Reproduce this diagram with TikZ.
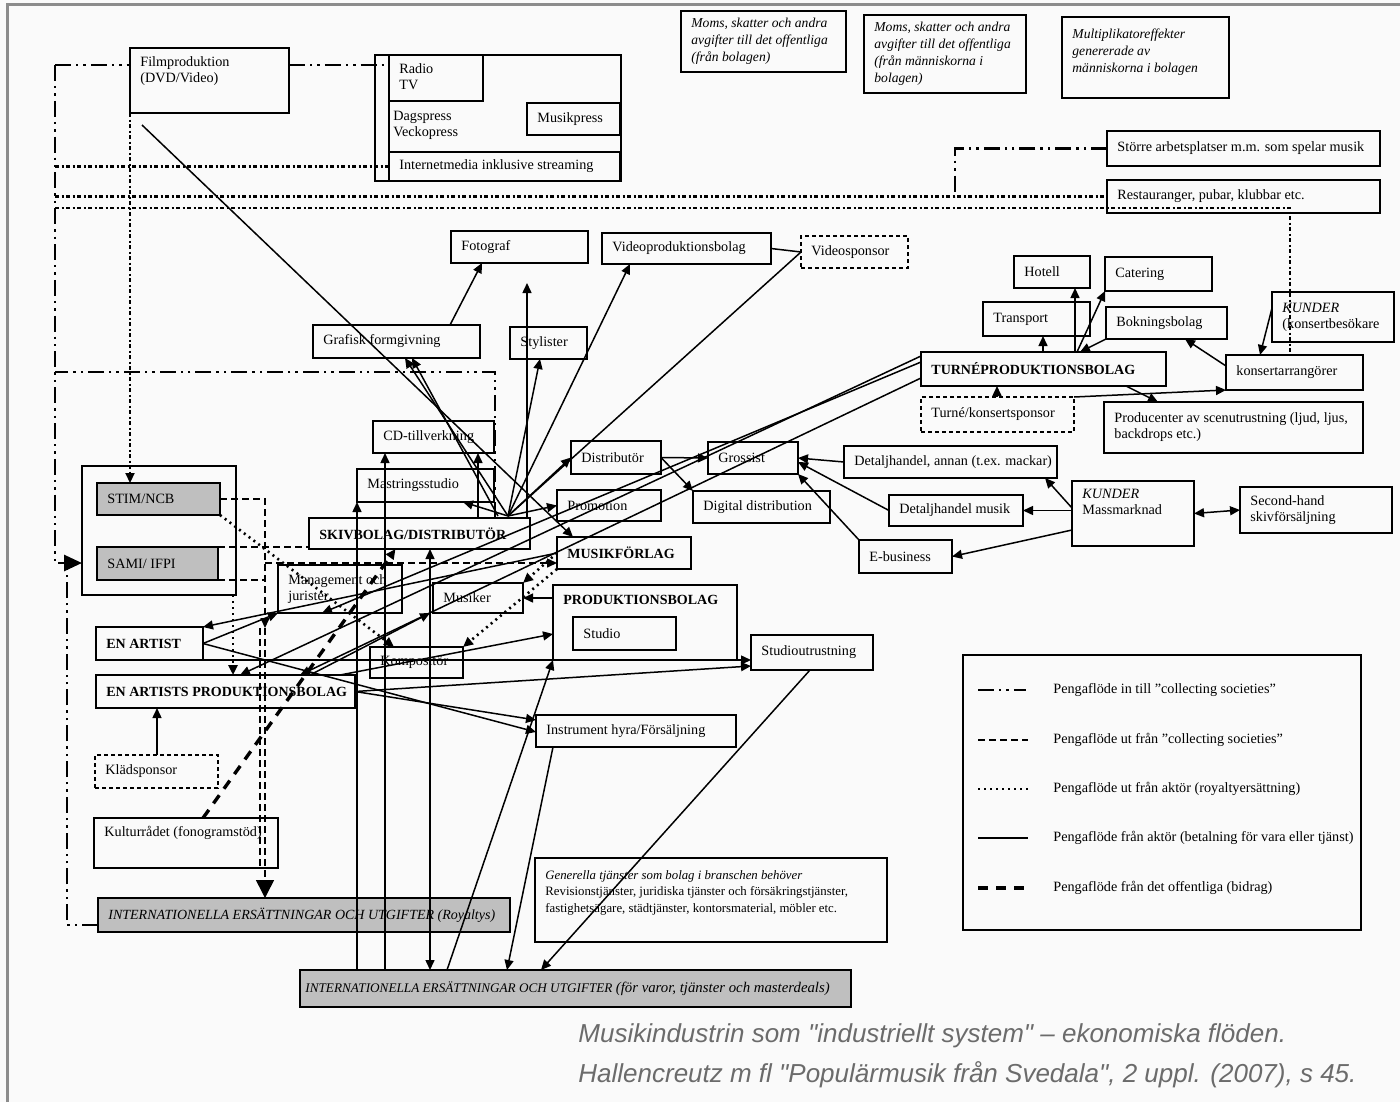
\documentclass[tikz,border=0pt]{standalone}
\usepackage{fontspec}
\setmainfont{Liberation Serif}
\newfontfamily\capfont{Liberation Sans}
\usetikzlibrary{arrows.meta}

\begin{document}
\begin{tikzpicture}[x=0.5pt, y=-0.5pt, >={Triangle[length=5pt,width=4.5pt]},
  box/.style 2 args={draw, line width=0.9pt, anchor=north west, outer sep=0pt, inner sep=0pt, minimum width=#1*0.5pt, minimum height=#2*0.5pt},
  txt/.style={font=\fontsize{7.1}{8}\selectfont, align=left, inner xsep=5pt, inner ysep=0pt, anchor=west},
  lbl/.style={label={[txt]west:#1}},
  lblb/.style={label={[txt,font=\fontsize{7}{8}\selectfont\bfseries]west:#1}},
  lbli/.style={label={[txt,font=\fontsize{6.8}{8.5}\selectfont\itshape]west:#1}},
  lblt/.style={label={[txt,anchor=north west,inner ysep=4pt]north west:#1}},
  sponsor/.style={dash pattern=on 2pt off 1.5pt},
  shaded/.style={fill=black!25},
  pay/.style={line width=0.75pt},
  inflow/.style={line width=1.4pt, dash pattern=on 8pt off 2.5pt on 1.2pt off 2.5pt on 1.2pt off 2.5pt},
  inflowthin/.style={line width=1.1pt, dash pattern=on 2.2pt off 1.1pt on 1.1pt off 1.1pt},
  outflow/.style={line width=0.75pt, dash pattern=on 3.5pt off 2pt},
  royalty/.style={line width=1.3pt, dash pattern=on 1pt off 2pt},
  public/.style={line width=1.7pt, dash pattern=on 5pt off 4pt}]

\useasboundingbox (0,0) rectangle (1400,1102);
\fill[black!2] (0,0) rectangle (1400,1102);
\draw[black!45, line width=1.5pt] (7,1102) -- (7,5) -- (1400,5);

% media and the public sector
\node[box={159}{65}, lblt={Filmproduktion\\(DVD/Video)}] (film) at (130,48) {};
\node[box={246}{126}] (media) at (375,55) {};
\node[box={94}{46}, lblt={Radio\\TV}] (radio) at (389,55) {};
\node[txt] (press) at (383,125) {Dagspress\\Veckopress};
\node[box={93}{32}, lbl={Musikpress}] (musikpress) at (527,103) {};
\node[box={231}{29}, lbl={Internetmedia inklusive streaming}] (internet) at (389,152) {};
\draw[line width=0.9pt] (radio.south west) -- (internet.north west);
\node[box={165}{61}, lbli={Moms, skatter och andra\\avgifter till det offentliga\\(från bolagen)}] (moms1) at (681,11) {};
\node[box={162}{78}, lbli={Moms, skatter och andra\\avgifter till det offentliga\\(från människorna i\\bolagen)}] (moms2) at (864,15) {};
\node[box={167}{81}, label={[txt,anchor=north west,inner ysep=6pt,font=\fontsize{6.8}{8.5}\selectfont\itshape]north west:Multiplikatoreffekter\\genererade av\\människorna i bolagen}] (multi) at (1062,17) {};
\node[box={273}{35}, lbl={Större arbetsplatser m.m. som spelar musik}] (storre) at (1107,131) {};
\node[box={273}{33}, lbl={Restauranger, pubar, klubbar etc.}] (rest) at (1107,180) {};

% record companies and their suppliers
\node[box={137}{32}, lbl={Fotograf}] (fotograf) at (451,231) {};
\node[box={169}{31}, lbl={Videoproduktionsbolag}] (videoprod) at (602,233) {};
\node[box={107}{32}, sponsor, lbl={Videosponsor}] (vspons) at (801,236) {};
\node[box={167}{33}, lbl={Grafisk formgivning}] (grafisk) at (313,325) {};
\node[box={77}{32}, lbl={Stylister}] (stylister) at (510,327) {};
\node[box={121}{32}, lbl={CD-tillverkning}] (cd) at (373,421) {};
\node[box={137}{33}, lbl={Mastringsstudio}] (mastring) at (357,469) {};
\node[box={221}{31}, lblb={SKIVBOLAG/DISTRIBUTÖR}] (skiv) at (309,518) {};
\node[box={90}{33}, lbl={Distributör}] (distrib) at (571,441) {};
\node[box={104}{31}, lbl={Promotion}] (promotion) at (557,490) {};
\node[box={134}{32}, lblb={MUSIKFÖRLAG}] (musik) at (557,537) {};
\node[box={90}{32}, lbl={Grossist}] (grossist) at (708,442) {};
\node[box={137}{32}, lbl={Digital distribution}] (digital) at (693,491) {};

% retail and customers
\node[box={213}{32}, lbl={Detaljhandel, annan (t.ex. mackar)}] (detaljannan) at (844,446) {};
\node[box={134}{31}, lbl={Detaljhandel musik}] (detaljmusik) at (889,495) {};
\node[box={93}{33}, lbl={E-business}] (ebusiness) at (859,540) {};
\node[box={122}{65}, lblt={\textit{KUNDER}\\Massmarknad}] (kunder) at (1072,481) {};
\node[box={152}{46}, lbl={Second-hand\\skivförsäljning}] (secondhand) at (1240,487) {};

% touring
\node[box={76}{32}, lbl={Hotell}] (hotell) at (1014,256) {};
\node[box={107}{34}, lbl={Catering}] (catering) at (1105,257) {};
\node[box={107}{34}, lbl={Transport}] (transport) at (983,302) {};
\node[box={121}{32}, lbl={Bokningsbolag}] (bokning) at (1106,307) {};
\node[box={122}{50}, lbl={\textit{KUNDER}\\(konsertbesökare}] (kunder2) at (1272,292) {};
\node[box={245}{34}, lblb={TURNÉPRODUKTIONSBOLAG}] (turne) at (921,352) {};
\node[box={153}{35}, sponsor, lbl={Turné/konsertsponsor}] (turnespons) at (921,397) {};
\node[box={137}{35}, lbl={konsertarrangörer}] (konsert) at (1226,355) {};
\node[box={259}{51}, lbl={Producenter av scenutrustning (ljud, ljus,\\backdrops etc.)}] (producenter) at (1104,402) {};

% collecting societies and artists
\node[box={154}{129}] (soc) at (82,466) {};
\node[box={123}{32}, shaded, lbl={STIM/NCB}] (stim) at (97,483) {};
\node[box={121}{33}, shaded, lbl={SAMI/ IFPI}] (sami) at (97,547) {};
\node[box={124}{48}, lbl={Management och\\jurister}] (management) at (278,565) {};
\node[box={90}{30}, lbl={Musiker}] (musiker) at (433,583) {};
\node[box={184}{75}, label={[txt,anchor=north west,inner ysep=5pt,font=\fontsize{7}{8}\selectfont\bfseries]north west:PRODUKTIONSBOLAG}] (prod) at (553,585) {};
\node[box={103}{33}, lbl={Studio}] (studio) at (573,617) {};
\node[box={93}{31}, lbl={Kompositör}] (komp) at (370,647) {};
\node[box={122}{35}, lbl={Studioutrustning}] (studioutr) at (751,635) {};
\node[box={107}{33}, lblb={EN ARTIST}] (artist) at (96,627) {};
\node[box={259}{33}, lblb={EN ARTISTS PRODUKTIONSBOLAG}] (artistprod) at (96,675) {};
\node[box={200}{32}, lbl={Instrument hyra/Försäljning}] (instrument) at (536,715) {};
\node[box={123}{33}, sponsor, lbl={Klädsponsor}] (kladspons) at (95,755) {};
\node[box={184}{50}, lblt={Kulturrådet (fonogramstöd)}] (kultur) at (94,818) {};
\node[box={412}{34}, shaded, label={[txt,font=\fontsize{7}{8}\selectfont\itshape]west:INTERNATIONELLA ERSÄTTNINGAR OCH UTGIFTER {\fontsize{7}{8}\selectfont(Royaltys)}}] (intl1) at (98,898) {};
\node[box={352}{84}, label={[txt,anchor=north west,inner ysep=6pt,font=\fontsize{6.4}{8.3}\selectfont]north west:\textit{Generella tjänster som bolag i branschen behöver}\\Revisionstjänster, juridiska tjänster och försäkringstjänster,\\fastighetsägare, städtjänster, kontorsmaterial, möbler etc.}] (generella) at (535,858) {};
\node[box={551}{37}, shaded, label={[txt,inner xsep=2.5pt,font=\fontsize{6.6}{8}\selectfont\itshape]west:INTERNATIONELLA ERSÄTTNINGAR OCH UTGIFTER {\fontsize{7.4}{8}\selectfont(för varor, tjänster och masterdeals)}}] (intl2) at (300,970) {};

% corners of the dash-dot lines
\coordinate (c1) at (55,65);
\coordinate (c2) at (55,563);
\coordinate (c3) at (67,925);
\coordinate (c5) at (1290,208);
\coordinate (c6) at (495,372);
\coordinate (c9) at (265,628);
\coordinate (c10) at (265,563);
\coordinate (hub) at (508,516);
\coordinate (up1) at (527,283);

% money into the collecting societies
\draw[inflow] (c1) -- (c1 -| film.west);
\draw[inflow] (film.east |- c1) -- (c1 -| radio.west);
\draw[inflow,-{Triangle[length=9pt,width=8pt]}] (c1) -- (c2) -- (c2 -| soc.west);
\draw[inflow] (c3 -| intl1.west) -- (c3) -- (c3 |- c2);
\draw[inflow] (skiv.north -| c6) -- (c6) -- (c6 -| c1);
\draw[inflow] (storre.west) -| (rest.west -| 955,0);
\draw[inflowthin,->] (film.south west) -- (stim.north -| film.south west);
\draw[inflowthin] (c1 |- internet.west) -- (internet.west);
\draw[inflowthin] (c1 |- rest.west) -- (rest.west);
\draw[inflowthin] (c5 -| c1) -- (c5) -- (c5 |- konsert.north);

% money out of the collecting societies
\draw[outflow,->] (stim.east) -| (c9);
\draw[outflow] (sami.north east) -- (sami.north east -| skiv.west);
\draw[outflow,->] (c10) -- (c10 -| musik.west);
\draw[outflow] (sami.south east) -- (sami.south east -| c9);
\draw[outflow,-{Triangle[length=9pt,width=9pt]}] (c9) -- (c9 |- intl1.north);
\draw[outflow] ([xshift=-2.5pt]c9) -- ([xshift=-2.5pt]c9 |- kultur.south);

% royalties
\draw[royalty,->] (soc.south -| 233,0) -- (artistprod.north -| 233,0);
\draw[royalty,->] (stim.south east) -- ([xshift=12pt]komp.north west);
\draw[royalty,->] (musik.south west) -- (komp.north east);
\draw[royalty,->] (musik.west) -- (musiker.north east);

% public money
\draw[public,->] ([xshift=8.5pt]kultur.north) -- ([xshift=-12pt]skiv.south);

% payments around the record company
\draw[pay,->] ([shift={(6pt,-6pt)}]film.south west) -- (musik.north -| 573,0);
\draw[pay,->] (hub) -- (grafisk.south -| 405,0);
\draw[pay,->] ([xshift=-5pt]hub) -- (grafisk.south -| 412,0);
\draw[pay,->] (grafisk.north -| 450,0) -- (fotograf.south -| 482,0);
\draw[pay,->] (skiv.north -| up1) -- (up1);
\draw[pay,->] (hub) -- (stylister.south -| 540,0);
\draw[pay,->] (hub) -- (videoprod.south -| 630,0);
\draw[pay] (videoprod.east) -- (vspons.west);
\draw[pay] (hub) -- (vspons.west);
\draw[pay,->] (hub) -- (distrib.west);
\draw[pay,->] (hub) -- (promotion.west);
\draw[pay,->] (skiv.north -| 478,0) -- (cd.south -| 478,0);
\draw[pay,->] (hub) -- (mastring.south -| 463,0);
\draw[pay,->] (distrib.east) -- (grossist.west);
\draw[pay,->] (distrib.east) -- (digital.north west);

% retail
\draw[pay,->] (detaljannan.west) -- (grossist.east);
\draw[pay,->] (detaljmusik.west) -- ([yshift=-2pt]grossist.east);
\draw[pay,->] (ebusiness.north west) -- (grossist.south east);
\draw[pay,->] (kunder.west |- 0,508) -- (detaljannan.south -| 1045,0);
\draw[pay,->] (kunder.west |- detaljmusik.east) -- (detaljmusik.east);
\draw[pay,->] (kunder.west |- 0,530) -- (ebusiness.east);
\draw[pay,<->] (kunder.east) -- (secondhand.west);

% touring
\draw[pay,->] (turne.north -| 1043,0) -- (transport.south -| 1043,0);
\draw[pay,->] (turne.north -| 1075,0) -- (hotell.south -| 1075,0);
\draw[pay,->] (turne.north -| 1077,0) -- (catering.south west);
\draw[pay,->] (bokning.south west) -- (turne.north -| 1080,0);
\draw[pay,->] (konsert.west |- 0,366) -- (bokning.south -| 1185,0);
\draw[pay,->] (kunder2.west |- 0,308) -- (konsert.north -| 1260,0);
\draw[pay,->] (turnespons.north -| 997,0) -- (turne.south -| 997,0);
\draw[pay,->] (turnespons.north east) -- (konsert.south west);
\draw[pay,->] (turne.south -| 1126,0) -- (producenter.north -| 1158,0);

% artists
\draw[pay,->] (turne.west |- 0,356) -- (artistprod.north -| 240,0);
\draw[pay,->] (turne.west |- 0,362) -- (management.south -| 322,0);
\draw[pay,->] (turne.west |- 0,378) -- (artistprod.north -| 300,0);
\draw[pay,->] (musik.west) -- (artist.north east);
\draw[pay,->] (artist.east) -- (management.south west);
\draw[pay,->] (artist.east) -- (instrument.west |- 0,732);
\draw[pay,->] (artist.south east) -- (studioutr.west |- artist.south east);
\draw[pay,->] (artistprod.east) -- (studioutr.west |- 0,666);
\draw[pay,->] (artistprod.east) -- (instrument.west |- 0,720);
\draw[pay,->] (artistprod.north -| 340,0) -- (prod.west |- 0,634);
\draw[pay,->] (artistprod.north -| 310,0) -- (musiker.south -| 430,0);
\draw[pay,->] (prod.west |- musiker.east) -- (musiker.east);
\draw[pay,->] (kladspons.north -| 157,0) -- (artistprod.south -| 157,0);

% international payments
\draw[pay,->] (intl2.north -| 357,0) -- (mastring.south -| 357,0);
\draw[pay,->] (intl2.north -| 385,0) -- (cd.south -| 385,0);
\draw[pay,<->] (skiv.south -| 430,0) -- (intl2.north -| 430,0);
\draw[pay,->] (intl2.north -| 447,0) -- (prod.south west);
\draw[pay,->] (instrument.south -| 553,0) -- (intl2.north -| 507,0);
\draw[pay,->] (studioutr.south -| 810,0) -- (intl2.north -| 541,0);

% legend
\node[box={398}{275}] (legend) at (963,655) {};
\draw[inflow] (978,690) -- (1026,690);
\draw[outflow] (978,740) -- (1028,740);
\draw[royalty] (978,789) -- (1028,789);
\draw[pay] (978,838) -- (1028,838);
\draw[public] (978,888) -- (1028,888);
\node[txt, font=\fontsize{7.1}{8}\selectfont] (l1) at (1043,690) {Pengaflöde in till "collecting societies"};
\node[txt, font=\fontsize{7.1}{8}\selectfont] (l2) at (1043,740) {Pengaflöde ut från "collecting societies"};
\node[txt, font=\fontsize{7.1}{8}\selectfont] (l3) at (1043,789) {Pengaflöde ut från aktör (royaltyersättning)};
\node[txt, font=\fontsize{7.1}{8}\selectfont] (l4) at (1043,838) {Pengaflöde från aktör (betalning för vara eller tjänst)};
\node[txt, font=\fontsize{7.1}{8}\selectfont] (l5) at (1043,888) {Pengaflöde från det offentliga (bidrag)};

% caption
\node[anchor=west, inner sep=0pt, text=black!58, font=\capfont\itshape\fontsize{13}{15}\selectfont] (cap1) at (578,1036) {Musikindustrin som "industriellt system" – ekonomiska flöden.};
\node[anchor=west, inner sep=0pt, text=black!58, font=\capfont\itshape\fontsize{13}{15}\selectfont] (cap2) at (578,1075) {Hallencreutz m fl "Populärmusik från Svedala", 2 uppl. (2007), s 45.};
\end{tikzpicture}
\end{document}
